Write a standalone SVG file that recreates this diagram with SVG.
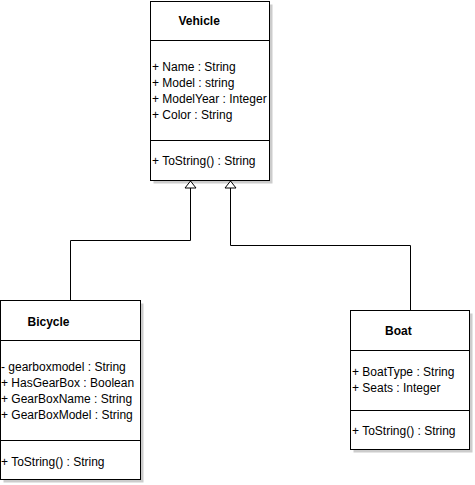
<svg xmlns="http://www.w3.org/2000/svg" width="475" height="485" viewBox="0 0 475 485">
<style>
.box{fill:#fff;stroke:#000;stroke-width:1}
.sh{fill:#cccccc}
.sep{stroke:#000;stroke-width:1}
.t{font-family:"Liberation Sans",Arial,sans-serif;font-size:12px;fill:#000}
.b{font-weight:bold}
.c{fill:none;stroke:#000;stroke-width:1}
</style>
<defs>
<marker id="tri" markerUnits="userSpaceOnUse" markerWidth="14" markerHeight="14" viewBox="0 0 14 14" refX="12" refY="7" orient="auto">
<path d="M5,1.5 L12,7 L5,12.5 z" fill="#fff" stroke="#000" stroke-width="1"/>
</marker>
</defs>
<rect width="475" height="485" fill="#fff"/>
<g id="Vehicle">
<rect class="sh" x="153.5" y="4.5" width="119" height="179"/>
<rect class="box" x="150.5" y="1.5" width="119" height="179"/>
<line class="sep" x1="150.5" y1="40.5" x2="269.5" y2="40.5"/>
<line class="sep" x1="150.5" y1="140.5" x2="269.5" y2="140.5"/>
<text class="t b" x="178.5" y="24.5">Vehicle</text>
<text class="t" x="152" y="70.5">+ Name : String</text>
<text class="t" x="152" y="86.5">+ Model : string</text>
<text class="t" x="152" y="102.5">+ ModelYear : Integer</text>
<text class="t" x="152" y="118.5">+ Color : String</text>
<text class="t" x="152" y="164.5">+ ToString() : String</text>
</g>
<g id="Bicycle">
<rect class="sh" x="3.5" y="303.5" width="140" height="179"/>
<rect class="box" x="0.5" y="300.5" width="140" height="179"/>
<line class="sep" x1="0.5" y1="340.5" x2="140.5" y2="340.5"/>
<line class="sep" x1="0.5" y1="440.5" x2="140.5" y2="440.5"/>
<text class="t b" x="27.5" y="325.5">Bicycle</text>
<text class="t" x="1" y="371">- gearboxmodel : String</text>
<text class="t" x="1" y="387">+ HasGearBox : Boolean</text>
<text class="t" x="1" y="403">+ GearBoxName : String</text>
<text class="t" x="1" y="419">+ GearBoxModel : String</text>
<text class="t" x="1" y="465.5">+ ToString() : String</text>
</g>
<g id="Boat">
<rect class="sh" x="353.5" y="313.5" width="119" height="139"/>
<rect class="box" x="350.5" y="310.5" width="119" height="139"/>
<line class="sep" x1="350.5" y1="350.5" x2="469.5" y2="350.5"/>
<line class="sep" x1="350.5" y1="410.5" x2="469.5" y2="410.5"/>
<text class="t b" x="385" y="335">Boat</text>
<text class="t" x="352" y="376">+ BoatType : String</text>
<text class="t" x="352" y="392">+ Seats : Integer</text>
<text class="t" x="352" y="435">+ ToString() : String</text>
</g>
<g id="connectors">
<path class="c" d="M70.5,300 V240.5 H190.5 V181" marker-end="url(#tri)"/>
<path class="c" d="M410.5,310 V245.5 H230.5 V181" marker-end="url(#tri)"/>
</g>
</svg>
